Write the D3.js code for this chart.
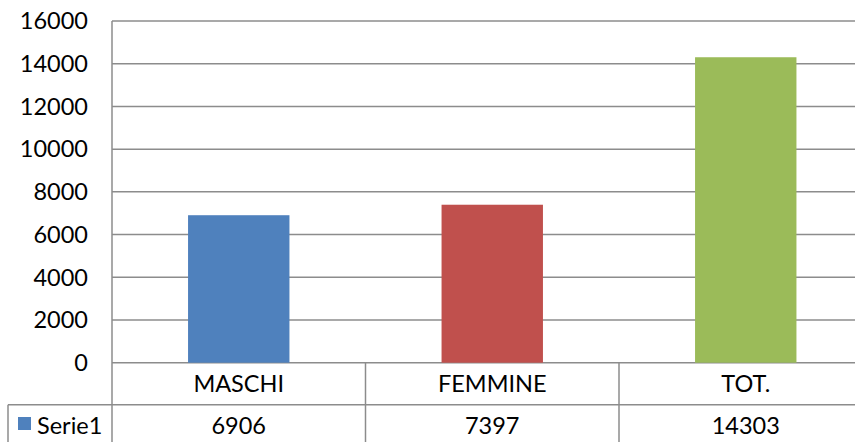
<!DOCTYPE html>
<html>
<head>
<meta charset="utf-8">
<script src="https://cdn.jsdelivr.net/npm/d3@7"></script>
<style>
  html, body { margin: 0; padding: 0; background: #fff; }
  svg text { font-family: Lato, "Open Sans", sans-serif; fill: #000; }
</style>
</head>
<body>
<div id="chart"></div>
<script>
// data
const categories = ["MASCHI", "FEMMINE", "TOT."];
const seriesName = "Serie1";
const values = [6906, 7397, 14303];
const colors = ["#4F81BD", "#C0504D", "#9BBB59"];
const yTicks = [0, 2000, 4000, 6000, 8000, 10000, 12000, 14000, 16000];

const width = 855, height = 442;
const plotLeft = 112, plotRight = 872.5; // plot area runs past the cropped right edge
const plotTop = 21, plotBottom = 362.7;
const rowH = 42;
const fontSize = "23.5px";
const lineColor = "#8c8c8c";

const svg = d3.select("#chart").append("svg")
  .attr("width", width)
  .attr("height", height);

const x = d3.scaleBand()
  .domain(categories)
  .range([plotLeft, plotRight])
  .paddingInner(0.6)
  .paddingOuter(0.3);

// category cells (no padding)
const xCell = d3.scaleBand()
  .domain(categories)
  .range([plotLeft, plotRight]);

const y = d3.scaleLinear()
  .domain([0, 16000])
  .range([plotBottom, plotTop]);

// gridlines
svg.append("g")
  .selectAll("line")
  .data(yTicks)
  .join("line")
  .attr("x1", plotLeft)
  .attr("x2", plotRight)
  .attr("y1", d => y(d))
  .attr("y2", d => y(d))
  .attr("stroke", lineColor)
  .attr("stroke-width", 1.5);

// y labels
svg.append("g")
  .selectAll("text")
  .data(yTicks)
  .join("text")
  .attr("x", 88)
  .attr("y", d => y(d))
  .attr("dy", "0.35em")
  .attr("text-anchor", "end")
  .style("font-size", fontSize)
  .text(d => d);

// bars
svg.append("g")
  .selectAll("rect")
  .data(values)
  .join("rect")
  .attr("x", (d, i) => x(categories[i]))
  .attr("y", d => y(d))
  .attr("width", x.bandwidth())
  .attr("height", d => y(0) - y(d))
  .attr("fill", (d, i) => colors[i]);

// data table
const row1Top = plotBottom, row2Top = plotBottom + rowH;
const t = svg.append("g");

// horizontal line between the two table rows
t.append("line")
  .attr("x1", 8).attr("x2", plotRight)
  .attr("y1", row2Top).attr("y2", row2Top)
  .attr("stroke", lineColor).attr("stroke-width", 1.5);

// value axis line + table left edge
t.append("line")
  .attr("x1", plotLeft).attr("x2", plotLeft)
  .attr("y1", plotTop).attr("y2", height)
  .attr("stroke", lineColor).attr("stroke-width", 1.5);

t.append("line")
  .attr("x1", 8).attr("x2", 8)
  .attr("y1", row2Top).attr("y2", height)
  .attr("stroke", lineColor).attr("stroke-width", 1.5);

// category separators
t.selectAll(".sep")
  .data(categories.slice(1))
  .join("line")
  .attr("class", "sep")
  .attr("x1", d => xCell(d)).attr("x2", d => xCell(d))
  .attr("y1", row1Top).attr("y2", height)
  .attr("stroke", lineColor).attr("stroke-width", 1.5);

// category labels
t.selectAll(".cat")
  .data(categories)
  .join("text")
  .attr("class", "cat")
  .attr("x", d => xCell(d) + xCell.bandwidth() / 2)
  .attr("y", row1Top + rowH / 2)
  .attr("dy", "0.35em")
  .attr("text-anchor", "middle")
  .style("font-size", fontSize)
  .text(d => d);

// value labels
t.selectAll(".val")
  .data(values)
  .join("text")
  .attr("class", "val")
  .attr("x", (d, i) => xCell(categories[i]) + xCell.bandwidth() / 2)
  .attr("y", row2Top + 21)
  .attr("dy", "0.35em")
  .attr("text-anchor", "middle")
  .style("font-size", fontSize)
  .text(d => d);

// legend key in the table
t.append("rect")
  .attr("x", 18).attr("y", 417)
  .attr("width", 13).attr("height", 13)
  .attr("fill", colors[0]);

t.append("text")
  .attr("x", 37)
  .attr("y", row2Top + 21)
  .attr("dy", "0.35em")
  .style("font-size", fontSize)
  .text(seriesName);
</script>
</body>
</html>
